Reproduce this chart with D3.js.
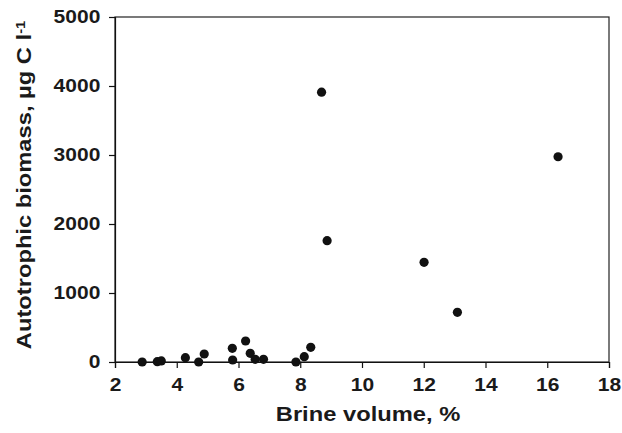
<!DOCTYPE html>
<html>
<head>
<meta charset="utf-8">
<script src="https://cdn.jsdelivr.net/npm/d3@7"></script>
<style>
  body { margin: 0; background: #fff; }
  svg { display: block; font-family: 'Liberation Sans', Arial, sans-serif; }
</style>
</head>
<body>
<div id="chart"></div>
<script>
// brine volume (%) vs autotrophic biomass (µg C l-1)
const brineVolume = [2.88, 3.37, 3.5, 4.28, 4.71, 4.89, 5.8, 5.81, 6.23, 6.38, 6.54, 6.81,
  7.86, 8.13, 8.34, 8.69, 8.87, 12.01, 13.09, 16.35];
const biomass = [0, 5, 15, 62, 0, 116, 198, 29, 304, 126, 39, 39,
  0, 77, 213, 3910, 1758, 1445, 720, 2975];
const xTicks = [2, 4, 6, 8, 10, 12, 14, 16, 18];
const yTicks = [0, 1000, 2000, 3000, 4000, 5000];

const W = 622, H = 433;
const margin = { top: 17, right: 13, bottom: 71, left: 115 };
const width = W - margin.left - margin.right;
const height = H - margin.top - margin.bottom;
const stretch = 1.13; // glyphs in the original are a bit wide

const svg = d3.select('#chart')
  .append('svg')
  .attr('width', W)
  .attr('height', H);

const g = svg.append('g')
  .attr('transform', `translate(${margin.left}, ${margin.top})`);

const x = d3.scaleLinear().domain([2, 18]).range([0, width]);
const y = d3.scaleLinear().domain([0, 5000]).range([height, 0]);

// frame
g.append('rect')
  .attr('x', 0)
  .attr('y', 0)
  .attr('width', width)
  .attr('height', height)
  .attr('fill', 'none')
  .attr('stroke', '#222')
  .attr('stroke-width', 1.2);

const xAxis = d3.axisBottom(x).tickValues(xTicks).tickSize(6).tickPadding(10);
const yAxis = d3.axisLeft(y).tickValues(yTicks).tickSize(6).tickPadding(7).tickFormat(d3.format('d'));

const gx = g.append('g')
  .attr('transform', `translate(0, ${height})`)
  .call(xAxis);
const gy = g.append('g').call(yAxis);

[gx, gy].forEach(a => {
  a.select('.domain').attr('stroke', '#111').attr('stroke-width', 1.2);
  a.selectAll('.tick line').attr('stroke', '#111').attr('stroke-width', 1.2);
  a.selectAll('.tick text')
    .attr('fill', '#1a1a1a')
    .attr('transform', `scale(${stretch},1)`)
    .style('font-size', '18.6px')
    .style('font-weight', 'bold');
});

const pts = brineVolume.map((v, i) => ({ v, b: biomass[i] }));
g.selectAll('.dot')
  .data(pts)
  .enter()
  .append('circle')
  .attr('class', 'dot')
  .attr('cx', d => x(d.v))
  .attr('cy', d => y(d.b))
  .attr('r', 4.6)
  .attr('fill', '#111');

svg.append('text')
  .attr('transform', `translate(368, 421) scale(${stretch},1)`)
  .attr('text-anchor', 'middle')
  .attr('fill', '#1a1a1a')
  .style('font-size', '21px')
  .style('font-weight', 'bold')
  .text('Brine volume, %');

const yt = svg.append('text')
  .attr('transform', `translate(31, 185) rotate(-90) scale(${stretch},1)`)
  .attr('text-anchor', 'middle')
  .attr('fill', '#1a1a1a')
  .style('font-size', '21px')
  .style('font-weight', 'bold');
yt.append('tspan').text('Autotrophic biomass, µg C l');
yt.append('tspan')
  .attr('dy', '-0.45em')
  .style('font-size', '13px')
  .text('-1');
</script>
</body>
</html>
